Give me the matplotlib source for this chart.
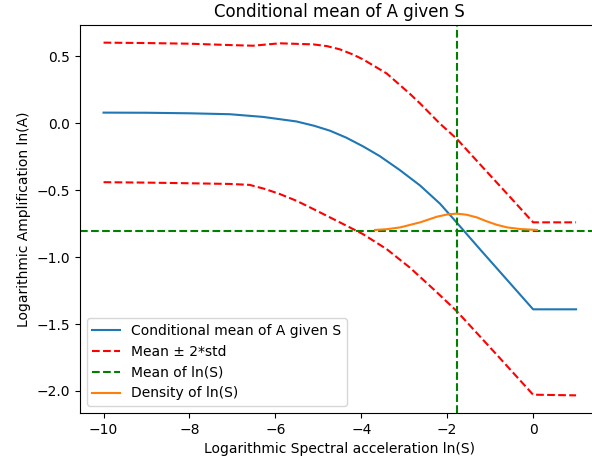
import numpy as np
import matplotlib
matplotlib.use('Agg')
import matplotlib.pyplot as plt

# values
mean_x = [-10, -9, -8, -7.06, -6.29, -5.51, -5.10, -4.73, -4.35, -3.96, -3.57, -3.10, -2.63, -2.17, -1.86, -1.55, -1.24, 0.0, 1.0]
mean_y = [0.080, 0.079, 0.075, 0.068, 0.048, 0.014, -0.018, -0.055, -0.107, -0.172, -0.245, -0.350, -0.465, -0.600, -0.712, -0.826, -0.940, -1.390, -1.390]

upper_x = [-10, -9, -8, -7.06, -6.52, -5.90, -5.12, -4.80, -4.50, -4.20, -3.96, -3.41, -2.87, -2.63, -2.17, -1.78, -1.24, -0.61, 0.0, 1.0]
upper_y = [0.603, 0.600, 0.595, 0.585, 0.580, 0.598, 0.590, 0.577, 0.553, 0.515, 0.478, 0.373, 0.221, 0.148, -0.002, -0.115, -0.305, -0.525, -0.740, -0.740]

lower_x = [-10, -9, -8, -7.06, -6.60, -6.25, -5.90, -5.50, -5.12, -4.50, -3.96, -3.41, -2.87, -2.30, -1.78, -0.85, 0.0, 1.0]
lower_y = [-0.440, -0.443, -0.448, -0.453, -0.460, -0.490, -0.528, -0.580, -0.640, -0.740, -0.828, -0.940, -1.078, -1.245, -1.403, -1.728, -2.028, -2.033]

dens_x = [-3.68, -3.40, -3.10, -2.63, -2.24, -2.00, -1.78, -1.55, -1.31, -1.10, -0.85, -0.60, -0.30, 0.09]
dens_y = [-0.797, -0.791, -0.778, -0.740, -0.698, -0.681, -0.675, -0.683, -0.703, -0.730, -0.758, -0.778, -0.790, -0.797]

mean_ln_s = -1.765
mean_ln_a = -0.803

fig = plt.figure(figsize=(5.92, 4.63), dpi=100)
ax = fig.add_axes([0.135, 0.108, 0.878, 0.838])

ax.plot(mean_x, mean_y, label='Conditional mean of A given S')
ax.plot(upper_x, upper_y, 'r--', label='Mean ± 2*std')
ax.plot(lower_x, lower_y, 'r--')
ax.axvline(mean_ln_s, color='g', linestyle='--', label='Mean of ln(S)')
ax.axhline(mean_ln_a, color='g', linestyle='--')
ax.plot(dens_x, dens_y, label='Density of ln(S)')

ax.set_title('Conditional mean of A given S')
ax.set_xlabel('Logarithmic Spectral acceleration ln(S)')
ax.set_ylabel('Logarithmic Amplification ln(A)')
ax.legend(loc='lower left')

fig.savefig('out.png', dpi=100)
